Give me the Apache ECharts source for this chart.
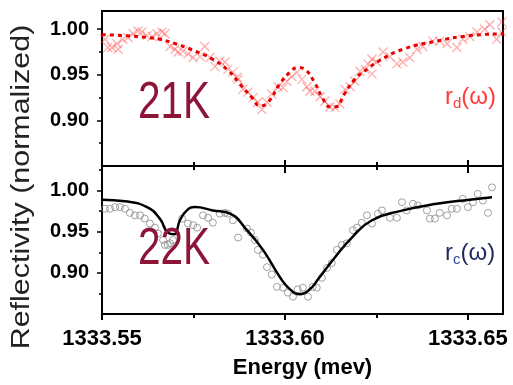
<!DOCTYPE html>
<html>
<head>
<meta charset="utf-8">
<script src="https://cdn.jsdelivr.net/npm/echarts@6/dist/echarts.min.js"></script>
<style>
  html, body { margin: 0; padding: 0; background: #fff; }
  #chart { width: 513px; height: 385px; }
</style>
</head>
<body>
<div id="chart"></div>
<script>
// axis ticks
const energyTicks = [1333.55, 1333.60, 1333.65]
const energyMinor = [1333.575, 1333.625]
const reflTicks = [0.90, 0.95, 1.00]
const reflMinorTop = [0.875, 0.925, 0.975]
const reflMinorBottom = [0.875, 0.925, 0.975, 1.025]

// 21K : r_d(w) measured (crosses)
const energy21 = [1333.5508, 1333.5516, 1333.5527, 1333.5541, 1333.5544, 1333.5557, 1333.5571, 1333.5585, 1333.5598, 1333.5609,
  1333.5623, 1333.5637, 1333.5650, 1333.5664, 1333.5672, 1333.5686, 1333.5699, 1333.5708, 1333.5721, 1333.5735,
  1333.5749, 1333.5768, 1333.5781, 1333.5795, 1333.5809, 1333.5822, 1333.5836, 1333.5844, 1333.5858, 1333.5869,
  1333.5872, 1333.5885, 1333.5899, 1333.5913, 1333.5926, 1333.5937, 1333.5951, 1333.5964, 1333.5981, 1333.5995,
  1333.6005, 1333.6019, 1333.6033, 1333.6046, 1333.6060, 1333.6068, 1333.6082, 1333.6096, 1333.6109, 1333.6123,
  1333.6137, 1333.6150, 1333.6164, 1333.6178, 1333.6191, 1333.6205, 1333.6219, 1333.6227, 1333.6238, 1333.6238,
  1333.6251, 1333.6268, 1333.6287, 1333.6306, 1333.6322, 1333.6341, 1333.6361, 1333.6377, 1333.6404, 1333.6423,
  1333.6443, 1333.6470, 1333.6486, 1333.6505, 1333.6525, 1333.6546, 1333.6560, 1333.6579, 1333.6593, 1333.6593]
const refl21 = [0.989, 0.980, 0.980, 0.984, 0.978, 0.989, 0.991, 0.995, 0.998, 0.997,
  0.993, 0.992, 0.995, 0.997, 0.995, 0.981, 0.978, 0.975, 0.976, 0.973,
  0.969, 0.970, 0.981, 0.969, 0.959, 0.965, 0.964, 0.956, 0.953, 0.947,
  0.945, 0.934, 0.931, 0.925, 0.920, 0.912, 0.920, 0.929, 0.937, 0.936,
  0.943, 0.948, 0.953, 0.945, 0.937, 0.932, 0.932, 0.926, 0.921, 0.915,
  0.914, 0.918, 0.934, 0.937, 0.943, 0.954, 0.956, 0.962, 0.967, 0.951,
  0.964, 0.975, 0.970, 0.962, 0.964, 0.969, 0.978, 0.981, 0.987, 0.987,
  0.984, 0.980, 0.989, 0.992, 0.997, 1.000, 1.005, 0.989, 0.997, 1.008]

// 21K fit (dashed)
const fitEnergy21 = [1333.5500, 1333.5563, 1333.5623, 1333.5658, 1333.5694, 1333.5749, 1333.5803, 1333.5844, 1333.5877, 1333.5910,
  1333.5932, 1333.5954, 1333.5986, 1333.6014, 1333.6035, 1333.6057, 1333.6079, 1333.6101, 1333.6123, 1333.6139,
  1333.6161, 1333.6191, 1333.6227, 1333.6260, 1333.6322, 1333.6415, 1333.6505, 1333.6596]
const fit21 = [0.994, 0.993, 0.991, 0.989, 0.985, 0.977, 0.967, 0.955, 0.940, 0.925,
  0.916, 0.920, 0.940, 0.953, 0.958, 0.955, 0.943, 0.926, 0.915, 0.915,
  0.928, 0.945, 0.957, 0.966, 0.978, 0.987, 0.993, 0.995]

// 22K : r_c(w) measured (circles)
const energy22 = [1333.5508, 1333.5522, 1333.5536, 1333.5549, 1333.5563, 1333.5576, 1333.5590, 1333.5604, 1333.5617, 1333.5631,
  1333.5645, 1333.5653, 1333.5667, 1333.5672, 1333.5680, 1333.5686, 1333.5694, 1333.5719, 1333.5735, 1333.5749,
  1333.5760, 1333.5776, 1333.5790, 1333.5803, 1333.5822, 1333.5836, 1333.5844, 1333.5858, 1333.5872, 1333.5896,
  1333.5907, 1333.5918, 1333.5926, 1333.5940, 1333.5951, 1333.5964, 1333.5978, 1333.5995, 1333.6008, 1333.6022,
  1333.6035, 1333.6049, 1333.6063, 1333.6076, 1333.6087, 1333.6101, 1333.6115, 1333.6128, 1333.6142, 1333.6156,
  1333.6169, 1333.6186, 1333.6197, 1333.6210, 1333.6224, 1333.6238, 1333.6254, 1333.6265, 1333.6287, 1333.6306,
  1333.6320, 1333.6333, 1333.6350, 1333.6363, 1333.6388, 1333.6396, 1333.6410, 1333.6423, 1333.6443, 1333.6456,
  1333.6470, 1333.6486, 1333.6500, 1333.6514, 1333.6527, 1333.6541, 1333.6555, 1333.6566]
const refl22 = [0.978, 0.978, 0.980, 0.980, 0.978, 0.973, 0.970, 0.970, 0.966, 0.960,
  0.955, 0.948, 0.940, 0.934, 0.934, 0.936, 0.940, 0.966, 0.960, 0.958,
  0.955, 0.970, 0.967, 0.961, 0.972, 0.973, 0.972, 0.964, 0.943, 0.954,
  0.949, 0.940, 0.928, 0.922, 0.907, 0.898, 0.883, 0.882, 0.876, 0.871,
  0.880, 0.882, 0.871, 0.883, 0.882, 0.894, 0.906, 0.912, 0.928, 0.934,
  0.936, 0.952, 0.955, 0.961, 0.970, 0.960, 0.972, 0.976, 0.967, 0.967,
  0.986, 0.976, 0.984, 0.982, 0.976, 0.966, 0.966, 0.973, 0.970, 0.978,
  0.978, 0.990, 0.980, 0.986, 0.996, 0.988, 0.973, 1.004]

// 22K fit (solid)
const fitEnergy22 = [1333.5500, 1333.5563, 1333.5623, 1333.5658, 1333.5680, 1333.5697, 1333.5713, 1333.5732, 1333.5754, 1333.5803,
  1333.5850, 1333.5896, 1333.5940, 1333.5986, 1333.6014, 1333.6041, 1333.6068, 1333.6090, 1333.6137, 1333.6183,
  1333.6238, 1333.6322, 1333.6415, 1333.6505, 1333.6566]
const fit22 = [0.989, 0.987, 0.980, 0.966, 0.949, 0.947, 0.964, 0.976, 0.980, 0.976,
  0.972, 0.952, 0.928, 0.895, 0.880, 0.874, 0.880, 0.892, 0.919, 0.943,
  0.964, 0.976, 0.984, 0.989, 0.992]

const zip = (xs, ys) => xs.map((x, i) => [x, ys[i]])

const eMin = 1333.55
const eMax = 1333.6596
const FONT = 'Liberation Sans, Arial, sans-serif'

// one axis per tick size (major / minor), only the main one draws the line
function xAxisOf(grid, position, values, len, inside, main, labels) {
  return {
    type: 'value',
    gridIndex: grid,
    position: position,
    min: eMin,
    max: eMax,
    axisLine: { show: main, onZero: false, lineStyle: { color: '#000', width: 2 } },
    axisTick: { show: true, inside: inside, length: len, customValues: values, lineStyle: { color: '#000', width: 2 } },
    axisLabel: {
      show: !!labels,
      customValues: values,
      margin: 14,
      color: '#000',
      fontFamily: FONT,
      fontWeight: 'bold',
      fontSize: 22,
      formatter: (v) => v.toFixed(2),
    },
    splitLine: { show: false },
  }
}

function yAxisOf(grid, max, values, len, main) {
  return {
    type: 'value',
    gridIndex: grid,
    position: 'left',
    min: 0.85,
    max: max,
    axisLine: { show: main, onZero: false, lineStyle: { color: '#000', width: 2 } },
    axisTick: { show: true, inside: false, length: len, customValues: values, lineStyle: { color: '#000', width: 1.5 } },
    axisLabel: {
      show: main,
      customValues: values,
      margin: 13,
      color: '#000',
      fontFamily: FONT,
      fontWeight: 'bold',
      fontSize: 20,
      formatter: (v) => v.toFixed(2),
    },
    splitLine: { show: false },
  }
}

const xAxes = [
  xAxisOf(0, 'bottom', energyTicks, 6, true, true, false),
  xAxisOf(0, 'bottom', energyMinor, 4, true, false, false),
  xAxisOf(1, 'bottom', energyTicks, 6, false, true, true),
  xAxisOf(1, 'bottom', energyMinor, 4, false, false, false),
  xAxisOf(1, 'top', energyTicks, 7, true, true, false),
  xAxisOf(1, 'top', energyMinor, 4, true, false, false),
]
xAxes[2].name = 'Energy (mev)'
xAxes[2].nameLocation = 'middle'
xAxes[2].nameGap = 43
xAxes[2].nameTextStyle = { color: '#000', fontFamily: FONT, fontWeight: 'bold', fontSize: 22 }

const yAxes = [
  yAxisOf(0, 1.02, reflTicks, 5, true),
  yAxisOf(0, 1.02, reflMinorTop, 3, false),
  yAxisOf(1, 1.03, reflTicks, 5, true),
  yAxisOf(1, 1.03, reflMinorBottom, 3, false),
]

const chart = echarts.init(document.getElementById('chart'))
chart.setOption({
  animation: false,
  backgroundColor: '#fff',
  grid: [
    { left: 102, top: 11, width: 401, height: 155, show: true, borderColor: '#000', borderWidth: 2 },
    { left: 102, top: 166, width: 401, height: 148, show: true, borderColor: '#000', borderWidth: 2 },
  ],
  xAxis: xAxes,
  yAxis: yAxes,
  series: [
    {
      type: 'scatter',
      xAxisIndex: 0,
      yAxisIndex: 0,
      data: zip(energy21, refl21),
      symbol: 'path://M0,0L10,10M10,0L0,10',
      symbolSize: 9,
      itemStyle: { color: 'transparent', borderColor: 'rgba(255,70,70,0.55)', borderWidth: 1.3 },
    },
    {
      type: 'line',
      xAxisIndex: 0,
      yAxisIndex: 0,
      data: zip(fitEnergy21, fit21),
      smooth: true,
      showSymbol: false,
      lineStyle: { color: '#e60000', width: 3, type: [4, 4] },
    },
    {
      type: 'scatter',
      xAxisIndex: 2,
      yAxisIndex: 2,
      data: zip(energy22, refl22),
      symbol: 'circle',
      symbolSize: 7,
      itemStyle: { color: 'rgba(255,255,255,0)', borderColor: '#8a8a8a', borderWidth: 1 },
    },
    {
      type: 'line',
      xAxisIndex: 2,
      yAxisIndex: 2,
      data: zip(fitEnergy22, fit22),
      smooth: true,
      showSymbol: false,
      lineStyle: { color: '#000', width: 2.5 },
    },
  ],
  graphic: [
    {
      type: 'text', x: 22, y: 187, rotation: Math.PI / 2, scaleX: 1.17, z: 10,
      style: { text: 'Reflectivity (normalized)', font: '26px ' + FONT, fill: '#222', align: 'center', verticalAlign: 'middle' },
    },
    {
      type: 'text', x: 138, y: 104, scaleX: 0.78, z: 10,
      style: { text: '21K', font: '52px ' + FONT, fill: '#8c1538', align: 'left', verticalAlign: 'middle' },
    },
    {
      type: 'text', x: 138, y: 250, scaleX: 0.78, z: 10,
      style: { text: '22K', font: '52px ' + FONT, fill: '#8c1538', align: 'left', verticalAlign: 'middle' },
    },
    {
      type: 'text', x: 445, y: 97, z: 10,
      style: {
        text: '{a|r}{s|d}{a|(ω)}',
        align: 'left', verticalAlign: 'middle',
        rich: {
          a: { fontFamily: FONT, fontSize: 24, fill: '#ff3b3b', color: '#ff3b3b' },
          s: { fontFamily: FONT, fontSize: 15, fill: '#ff3b3b', color: '#ff3b3b', padding: [14, 0, 0, 0] },
        },
      },
    },
    {
      type: 'text', x: 445, y: 253, z: 10,
      style: {
        text: '{a|r}{s|c}{a|(ω)}',
        align: 'left', verticalAlign: 'middle',
        rich: {
          a: { fontFamily: FONT, fontSize: 24, fill: '#1d2b5e', color: '#1d2b5e' },
          s: { fontFamily: FONT, fontSize: 15, fill: '#2a4a9a', color: '#2a4a9a', padding: [14, 0, 0, 0] },
        },
      },
    },
  ],
})
</script>
</body>
</html>
